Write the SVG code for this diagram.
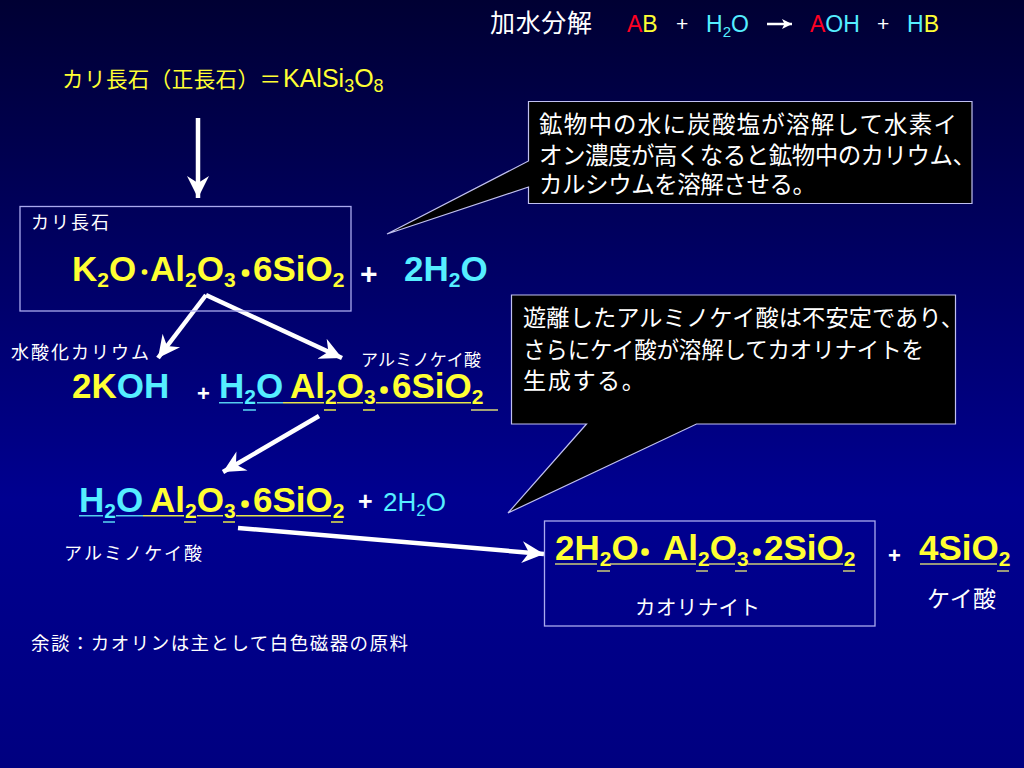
<svg xmlns="http://www.w3.org/2000/svg" width="1024" height="768" viewBox="0 0 1024 768">
<defs>
<linearGradient id="bg" x1="0" y1="0" x2="0" y2="1"><stop offset="0" stop-color="#000033"/><stop offset="0.65" stop-color="#000090"/><stop offset="1" stop-color="#000080"/></linearGradient>
<marker id="ah" markerUnits="userSpaceOnUse" markerWidth="24" markerHeight="24" refX="22" refY="12" orient="auto" viewBox="0 0 24 24"><path d="M0 1L22 12L0 23L7 12Z" fill="#fff"/></marker>
<marker id="ahs" markerUnits="userSpaceOnUse" markerWidth="11" markerHeight="12" refX="10" refY="6" orient="auto" viewBox="0 0 11 12"><path d="M0 1L10 6L0 11L2.500 6Z" fill="#fff"/></marker>
</defs>
<style>
text{font-family:"Liberation Sans","Noto Sans CJK JP",sans-serif;fill:#fff}
.j{font-family:"Noto Sans CJK JP","Liberation Sans",sans-serif}
.f{font-weight:bold;font-size:35px}
.y{fill:#ffff33}.c{fill:#55eeff}.r{fill:#ff0022}
.s{font-size:21px}
.dot{font-family:"Noto Sans CJK JP",sans-serif;font-size:24px;fill:#ffff33;stroke:#ffff33;stroke-width:3.500;stroke-linejoin:miter}
.dot1{stroke-width:1.5}
.box{fill:none;stroke:#aaaaee;stroke-width:1.3}
.call{fill:#000;stroke:#c0c0f0;stroke-width:1.2}
.arr{stroke:#fff;stroke-width:4.5;fill:none;marker-end:url(#ah)}
.ul{stroke-width:1.6;fill:none}
.uy{stroke:#e6e64a}.uc{stroke:#55ccee}.ug{stroke:#cccc77}
</style>
<rect width="1024" height="768" fill="url(#bg)"/>
<g id="connectors">
<path class="arr" d="M198 118V198"/>
<path class="arr" d="M206 295L158 358"/>
<path class="arr" d="M206 295L342 358"/>
<path class="arr" d="M319 416L223 472"/>
<path class="arr" d="M238 528L544 554"/>
<path d="M767 24H792" stroke="#fff" stroke-width="2.500" fill="none" marker-end="url(#ahs)"/>
</g>
<g id="title">
<text class="j" x="490" y="32" font-size="25" textLength="102">加水分解</text>
<text x="627" y="32" font-size="23"><tspan class="r">A</tspan><tspan class="y">B</tspan></text>
<text x="676" y="31" font-size="21">+</text>
<text class="c" x="706" y="32" font-size="23">H<tspan font-size="15" dy="5">2</tspan><tspan dy="-5">O</tspan></text>
<text x="810" y="32" font-size="23"><tspan class="r">A</tspan><tspan class="c">OH</tspan></text>
<text x="877" y="31" font-size="21">+</text>
<text x="907" y="32" font-size="23"><tspan class="c">H</tspan><tspan class="y">B</tspan></text>
</g>
<g id="feldspar-title">
<text class="y j" x="62" y="87" font-size="21.500" textLength="219">カリ長石（正長石）＝</text>
<text class="y" x="283" y="87" font-size="25">KAlSi<tspan font-size="18" dy="5">3</tspan><tspan dy="-5">O</tspan><tspan font-size="18" dy="5">8</tspan></text>
</g>
<g id="callout-1">
<path class="call" d="M528.500 101.500H972V203.500H528.500V187L387 234L528.500 161Z"/>
<text class="j" font-size="23.500" x="539" y="133" textLength="418">鉱物中の水に炭酸塩が溶解して水素イ</text>
<text class="j" font-size="23.500" x="539" y="164" textLength="437">オン濃度が高くなると鉱物中のカリウム、</text>
<text class="j" font-size="23.500" x="539" y="193" textLength="277">カルシウムを溶解させる。</text>
</g>
<g id="feldspar-box">
<rect class="box" x="20" y="206.500" width="331" height="104.500"/>
<text class="j" x="31" y="229" font-size="18" textLength="78">カリ長石</text>
<text class="f y" x="72" y="281">K<tspan class="s" dy="6">2</tspan><tspan dy="-6">O</tspan></text>
<text class="dot dot1" x="138.500" y="281">･</text>
<text class="f y" x="150" y="281">Al<tspan class="s" dy="6">2</tspan><tspan dy="-6">O</tspan><tspan class="s" dy="6">3</tspan></text>
<text class="dot" x="239.500" y="282">･</text>
<text class="f y" x="253" y="281">6SiO<tspan class="s" dy="6">2</tspan></text>
</g>
<g id="water">
<text x="360" y="284" font-size="30" font-weight="bold">+</text>
<text class="f c" x="404" y="281">2H<tspan class="s" dy="6">2</tspan><tspan dy="-6">O</tspan></text>
</g>
<g id="koh">
<text class="j" x="11" y="359" font-size="18" textLength="138">水酸化カリウム</text>
<text class="f" x="72" y="398"><tspan class="y">2K</tspan><tspan class="c">OH</tspan></text>
<text x="197" y="401" font-size="22" font-weight="bold">+</text>
</g>
<g id="aluminosilicate-1">
<text class="j" x="361" y="366" font-size="17" textLength="120">アルミノケイ酸</text>
<text class="f" x="219" y="398"><tspan class="c">H</tspan><tspan class="c s" dy="6">2</tspan><tspan class="c" dy="-6">O</tspan></text>
<text class="f y" x="290" y="398">Al<tspan class="s" dy="6">2</tspan><tspan dy="-6">O</tspan><tspan class="s" dy="6">3</tspan></text>
<text class="dot" x="378" y="399">･</text>
<text class="f y" x="392" y="398">6SiO<tspan class="s" dy="6">2</tspan></text>
<path class="ul uc" d="M219 402.700H243M257 402.700H283"/>
<path class="ul uc" d="M243 410H256"/>
<path class="ul uy" d="M283 402.700H324M337 402.700H363M376 402.700H471"/>
<path class="ul uy" d="M324 410H336M363 410H375"/>
<path class="ul ug" d="M471 410H498"/>
</g>
<g id="aluminosilicate-2">
<text class="f" x="79" y="512"><tspan class="c">H</tspan><tspan class="c s" dy="6">2</tspan><tspan class="c" dy="-6">O</tspan></text>
<text class="f y" x="150" y="512">Al<tspan class="s" dy="6">2</tspan><tspan dy="-6">O</tspan><tspan class="s" dy="6">3</tspan></text>
<text class="dot" x="239" y="513">･</text>
<text class="f y" x="253" y="512">6SiO<tspan class="s" dy="6">2</tspan></text>
<path class="ul uc" d="M79 515.700H103M116 515.700H143"/>
<path class="ul uc" d="M103 522H115"/>
<path class="ul uy" d="M143 515.700H184M197 515.700H223M236 515.700H331"/>
<path class="ul uy" d="M184 522H196M223 522H235M331 522H343"/>
<text class="j" x="64" y="560" font-size="18" textLength="138">アルミノケイ酸</text>
</g>
<g id="water-2">
<text x="358" y="510" font-size="25" font-weight="bold">+</text>
<text class="c" x="383" y="511" font-size="26">2H<tspan font-size="17" dy="5">2</tspan><tspan dy="-5">O</tspan></text>
</g>
<g id="callout-2">
<path class="call" d="M511.500 295H955.500V424H696.500L508 513L586.500 424H511.500Z"/>
<text class="j" font-size="23.200" x="523" y="326" textLength="441">遊離したアルミノケイ酸は不安定であり、</text>
<text class="j" font-size="22.500" x="523" y="358" textLength="401">さらにケイ酸が溶解してカオリナイトを</text>
<text class="j" font-size="23.200" x="523" y="389" textLength="122">生成する。</text>
</g>
<g id="kaolinite-box">
<rect class="box" x="544.500" y="521" width="330.500" height="105"/>
<text class="f y" x="555" y="560">2H<tspan class="s" dy="6">2</tspan><tspan dy="-6">O</tspan></text>
<text class="dot" x="639" y="561">･</text>
<text class="f y" x="663" y="560">Al<tspan class="s" dy="6">2</tspan><tspan dy="-6">O</tspan><tspan class="s" dy="6">3</tspan></text>
<text class="dot" x="751" y="561">･</text>
<text class="f y" x="764" y="560">2SiO<tspan class="s" dy="6">2</tspan></text>
<path class="ul ug" d="M555 564H597M610 564H696M709 564H735M748 564H843"/>
<path class="ul ug" d="M597 571H610M696 571H708M735 571H747M843 571H855"/>
<text class="j" x="635" y="615" font-size="20.500" textLength="125">カオリナイト</text>
</g>
<g id="plus-silica">
<text x="888" y="563" font-size="22" font-weight="bold">+</text>
<text class="f y" x="919" y="560">4SiO<tspan class="s" dy="6">2</tspan></text>
<path class="ul ug" d="M920 564H997M997 571H1009"/>
<text class="j" x="927" y="607" font-size="23" textLength="69">ケイ酸</text>
</g>
<g id="note">
<text class="j" x="31" y="650" font-size="18.500" textLength="377">余談：カオリンは主として白色磁器の原料</text>
</g>
</svg>
